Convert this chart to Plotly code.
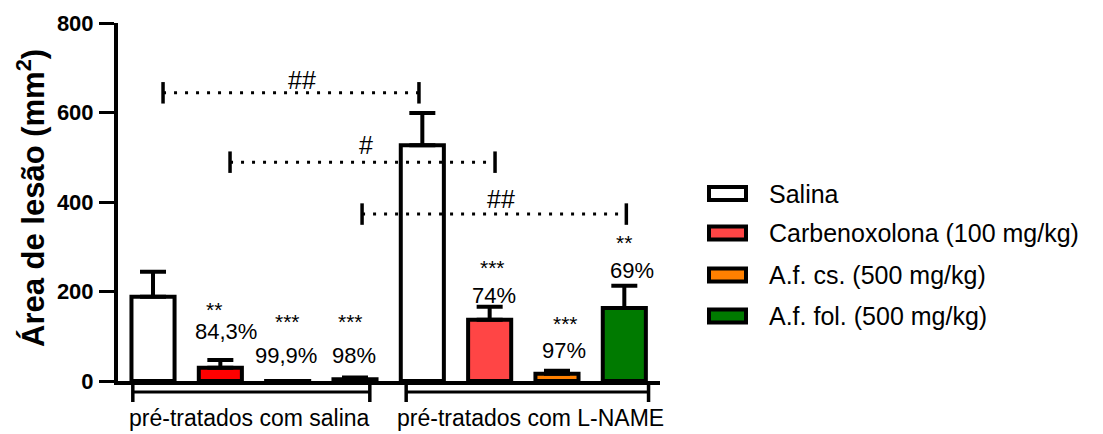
import plotly.graph_objects as go

# ---- data -------------------------------------------------------------
groups = ["pré-tratados com salina", "pré-tratados com L-NAME"]
treatments = ["Salina", "Carbenoxolona (100 mg/kg)",
              "A.f. cs. (500 mg/kg)", "A.f. fol. (500 mg/kg)"]

salina = [188, 527]
carbenoxolona = [29.5, 137]
af_cs = [0.2, 16]
af_fol = [3.8, 163]

salina_sem = [56, 72]
carbenoxolona_sem = [17.5, 29]
af_cs_sem = [0, 7]
af_fol_sem = [4, 50]

# inhibition relative to the matching Salina group, and significance marks
carbenoxolona_pct = ["84,3%", "74%"]
af_cs_pct = ["99,9%", "97%"]
af_fol_pct = ["98%", "69%"]
carbenoxolona_sig = ["**", "***"]
af_cs_sig = ["***", "***"]
af_fol_sig = ["***", "**"]

# comparisons between groups (# vs Salina pre-treated group)
bracket_labels = ["##", "#", "##"]

# ---- style / layout ---------------------------------------------------
FONT = "Liberation Sans, Arial, Helvetica, sans-serif"
W, H = 1103, 434
L, R, T, B = 118, 443, 23, 53
PW, PH = W - L - R, H - T - B
XR = [-0.52, 7.53]
YR = [0, 800]

fills = [["#FFFFFF", "#FFFFFF"], ["#FF0000", "#FF4545"],
         ["#FF8000", "#FF8000"], ["#007A00", "#007A00"]]
legend_fill = ["#FFFFFF", "#FF4545", "#FF8000", "#007A00"]

values = [salina, carbenoxolona, af_cs, af_fol]
sems = [salina_sem, carbenoxolona_sem, af_cs_sem, af_fol_sem]
pcts = [None, carbenoxolona_pct, af_cs_pct, af_fol_pct]
sigs = [None, carbenoxolona_sig, af_cs_sig, af_fol_sig]

n_t = len(treatments)


def px_x(p):
    return (p - L) / PW


def px_y(p):
    return (H - B - p) / PH


fig = go.Figure()
for i, name in enumerate(treatments):
    xs = [g * n_t + i for g in range(len(groups))]
    fig.add_trace(go.Bar(
        x=xs, y=values[i], name=name, width=0.64,
        marker=dict(color=fills[i], line=dict(color="black", width=4)),
        error_y=dict(type="data", array=sems[i], arrayminus=[0] * len(xs),
                     symmetric=False, color="black", thickness=4, width=13),
        showlegend=False,
    ))

annotations = []
shapes = []

# percent / star label placement (x offset from bar centre, y in data units)
pct_pos = {(1, 0): (0.09, 110), (2, 0): (-0.02, 58), (3, 0): (-0.01, 58),
           (1, 1): (0.06, 192), (2, 1): (0.10, 69), (3, 1): (0.11, 248)}
sig_pos = {(1, 0): (-0.09, 174), (2, 0): (0.0, 147), (3, 0): (-0.07, 147),
           (1, 1): (0.04, 268), (2, 1): (0.12, 141), (3, 1): (-0.01, 322)}

for i in range(1, n_t):
    for g in range(len(groups)):
        xc = g * n_t + i
        dx, yy = pct_pos[(i, g)]
        annotations.append(dict(x=xc + dx, y=yy, xref="x", yref="y",
                                text=pcts[i][g], showarrow=False,
                                font=dict(family=FONT, size=22, color="black"),
                                xanchor="center", yanchor="middle"))
        dx, yy = sig_pos[(i, g)]
        annotations.append(dict(x=xc + dx, y=yy, xref="x", yref="y",
                                text=sigs[i][g], showarrow=False, yshift=-6,
                                font=dict(family=FONT, size=21, color="black"),
                                xanchor="center", yanchor="middle"))

# dotted comparison brackets: (x start, x end, y, label x, label y)
bracket_geom = [(0.149, 3.95, 644, 2.21, 672),
                (1.144, 5.08, 489, 3.16, 527),
                (3.105, 7.03, 373, 5.17, 406)]
for lab, (x0, x1, yb, lx, ly) in zip(bracket_labels, bracket_geom):
    shapes.append(dict(type="line", xref="x", yref="y", x0=x0, x1=x1, y0=yb, y1=yb,
                       line=dict(color="black", width=3, dash="3px,8px")))
    for xe in (x0, x1):
        shapes.append(dict(type="line", xref="x", yref="y", x0=xe, x1=xe,
                           y0=yb - 24, y1=yb + 24, line=dict(color="black", width=3.5)))
    annotations.append(dict(x=lx, y=ly, xref="x", yref="y", text=lab, showarrow=False,
                            font=dict(family=FONT, size=25, color="black"),
                            xanchor="center", yanchor="middle"))

# group brackets below the axis and their labels
for g, gname in enumerate(groups):
    x0 = g * n_t - 0.30 + (0.06 if g else 0)
    x1 = g * n_t + 3.22 + (0.14 if g else 0)
    shapes.append(dict(type="line", xref="x", yref="paper", x0=x0, x1=x1,
                       y0=px_y(392), y1=px_y(392), line=dict(color="black", width=3)))
    for xe in (x0, x1):
        shapes.append(dict(type="line", xref="x", yref="paper", x0=xe, x1=xe,
                           y0=px_y(381), y1=px_y(402), line=dict(color="black", width=3.5)))
    annotations.append(dict(x=g * n_t + 1.5 - 0.06 + (0.16 if g else 0), y=px_y(418),
                            xref="x", yref="paper", text=gname, showarrow=False,
                            font=dict(family=FONT, size=23, color="black"),
                            xanchor="center", yanchor="middle"))

# y-axis title
annotations.append(dict(x=px_x(31), y=px_y(198), xref="paper", yref="paper",
                        text="<b>Área de lesão (mm<sup>2</sup>)</b>", textangle=-90,
                        showarrow=False, font=dict(family=FONT, size=31, color="black"),
                        xanchor="center", yanchor="middle"))

# legend drawn as boxed swatches
leg_y = [193.5, 233, 275, 316]
for name, col, yc in zip(treatments, legend_fill, leg_y):
    shapes.append(dict(type="rect", xref="paper", yref="paper",
                       x0=px_x(709), x1=px_x(746), y0=px_y(yc - 6.5), y1=px_y(yc + 6.5),
                       fillcolor=col, line=dict(color="black", width=4)))
    annotations.append(dict(x=px_x(767), y=px_y(yc), xref="paper", yref="paper",
                            text=name, showarrow=False,
                            font=dict(family=FONT, size=25, color="black"),
                            xanchor="left", yanchor="middle"))

fig.update_layout(
    width=W, height=H,
    margin=dict(l=L, r=R, t=T, b=B, pad=0),
    paper_bgcolor="white", plot_bgcolor="white",
    barmode="overlay",
    shapes=shapes, annotations=annotations,
    xaxis=dict(range=XR, showticklabels=False, ticks="", showgrid=False,
               zeroline=False, showline=True, linecolor="black", linewidth=4),
    yaxis=dict(range=YR, tickvals=[0, 200, 400, 600, 800], ticks="outside",
               ticklen=15, tickwidth=3, tickcolor="black", showgrid=False,
               zeroline=False, showline=True, linecolor="black", linewidth=4,
               tickfont=dict(family=FONT, size=22, color="black", weight="bold"),
               ticklabelstandoff=1),
)

fig.write_html("out.html")
